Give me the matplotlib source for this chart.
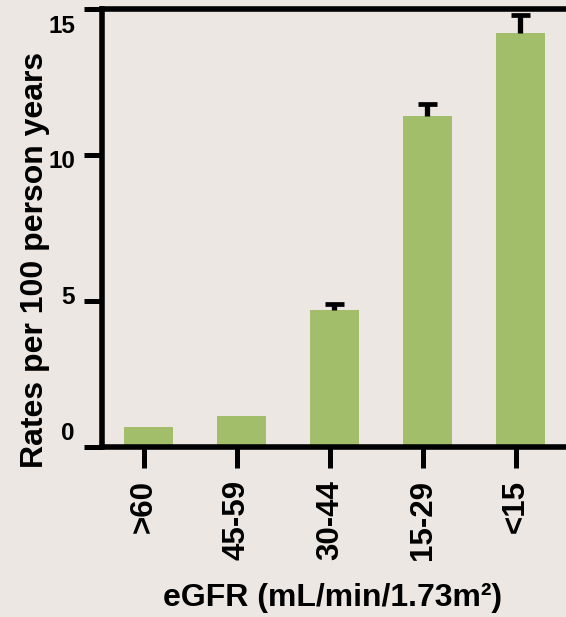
import matplotlib
matplotlib.use("Agg")
import matplotlib.pyplot as plt
import matplotlib.transforms as mtransforms
import numpy as np

categories = [">60", "45-59", "30-44", "15-29", "<15"]
rates = [0.67, 1.06, 4.69, 11.34, 14.18]
err_upper = [0.0, 0.0, 0.22, 0.42, 0.62]
yticks = [0, 5, 10, 15]
ylabel = "Rates per 100 person years"
xlabel = "eGFR (mL/min/1.73m²)"

bg = "#ECE7E3"
bar_color = "#A3BE6A"

plt.rcParams["font.family"] = ["Liberation Sans", "DejaVu Sans"]
plt.rcParams["font.weight"] = "bold"

fig = plt.figure(figsize=(5.66, 6.17), dpi=100, facecolor=bg)
W, H = 566, 617
left, right, top, bottom = 102, 566, 9, 447
ax = fig.add_axes([left / W, 1 - bottom / H, (right - left) / W, (bottom - top) / H])
ax.set_facecolor(bg)

x = np.arange(len(categories))
r = np.array(rates)
e = np.array(err_upper)
ax.bar(x, r, width=0.527, color=bar_color, zorder=2)
mask = e > 0
ax.vlines(x[mask], r[mask], r[mask] + e[mask], colors="black", linewidth=3.8, zorder=3)
cap_half = 0.1
ax.hlines(r[mask] + e[mask], x[mask] - cap_half, x[mask] + cap_half, colors="black",
          linewidth=3.4, zorder=3)

ax.set_xlim(-0.5, 4.49)
ax.set_ylim(0, 15)

for s in ["left", "top", "bottom"]:
    ax.spines[s].set_linewidth(4)
    ax.spines[s].set_color("black")
ax.spines["right"].set_visible(False)

ax.set_xticks(x - 0.05)
ax.set_xticklabels(categories, rotation=90, fontsize=22.5, fontweight="bold", va="top", ha="center")
ax.tick_params(axis="x", length=15, width=3.6, pad=9, direction="out")

ax.set_yticks(yticks)
ax.set_yticklabels([str(v) for v in yticks], fontsize=17.5, fontweight="bold")
ax.tick_params(axis="y", length=13, width=3.6, pad=6.5, direction="out")
offsets_px = [16, 6.5, -4, -15]
for lab, dy in zip(ax.get_yticklabels(), offsets_px):
    lab.set_transform(lab.get_transform() + mtransforms.ScaledTranslation(0, dy / 100, fig.dpi_scale_trans))

ax.set_ylabel(ylabel, fontsize=23, fontweight="bold", va="center")
ax.yaxis.set_label_coords((35 - left) / (right - left), (bottom - 259.5) / (bottom - top))
ax.set_xlabel(xlabel, fontsize=23, fontweight="bold", va="center")
ax.xaxis.set_label_coords(0.496, (bottom - 598) / (bottom - top))

fig.savefig("out.png", dpi=100, facecolor=bg)
